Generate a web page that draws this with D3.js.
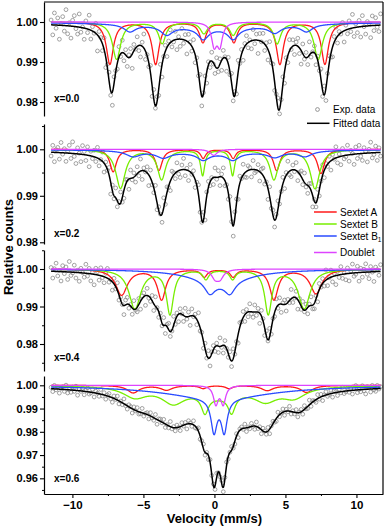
<!DOCTYPE html>
<html><head><meta charset="utf-8">
<script src="https://cdn.jsdelivr.net/npm/d3@7"></script>
<style>body{margin:0;background:#fff}svg{display:block}</style>
</head><body>
<script>
// ---------------- DATA ----------------
const velocityDomain = [-12, 11.87];
const velocitySpan = [-11.5, 11.7];
const xTicks = [-10, -5, 0, 5, 10];
const panelLabels = ["x=0.0", "x=0.2", "x=0.4", "x=0.6"];
const yDomains = [[0.9765, 1.005], [0.97963, 1.00544], [0.9728, 1.00507], [0.95325, 1.004]];
const yTicks = [[0.98, 0.99, 1.00], [0.98, 0.99, 1.00], [0.98, 0.99, 1.00], [0.96, 0.97, 0.98, 0.99, 1.00]];
const legendTop = ["Exp. data", "Fitted data"];
const legendComponents = ["Sextet A", "Sextet B", "Sextet B1", "Doublet"];

// Lorentzian lines: [velocity (mm/s), depth, half width]
const fit_x00 = [[-7.24,.0157,.38],[-6.0,.0055,.5],[-4.14,.0185,.40],[-0.86,.0145,.33],[0.2,.006,.4],[1.40,.0145,.33],[4.54,.0195,.40],[6.45,.0055,.5],[7.73,.0162,.38],[0.3,.0028,5]];
const sextetA_x00 = [[-7.36,.0105,.3],[-4.14,.0105,.3],[-0.81,.005,.28],[1.37,.005,.28],[4.61,.0105,.3],[7.78,.0105,.3]];
const sextetB_x00 = [[-6.89,.0093,.35],[-3.68,.0053,.3],[-0.74,.0028,.3],[1.32,.0032,.3],[4.42,.0053,.3],[7.31,.0093,.35]];
const sextetB1_x00 = [[-5.95,.0018,.5],[-3.36,.0022,.5],[-0.79,.0028,.45],[1.32,.0028,.45],[4.26,.0018,.5],[6.49,.0018,.5],[0.2,.0015,5]];
const doublet_x00 = [[-0.02,.0055,.22],[0.38,.0055,.22]];

const fit_x02 = [[-7.13,.0045,.3],[-6.65,.0085,.4],[-5.72,.0025,.5],[-3.77,.0118,.5],[-0.83,.012,.3],[0.2,.0008,.3],[1.32,.0128,.3],[4.26,.0128,.45],[6.4,.0035,.5],[7.15,.009,.4],[0.3,.003,5]];
const sextetA_x02 = [[-7.13,.0048,.28],[-3.91,.0045,.28],[-0.79,.0019,.22],[1.32,.0019,.22],[4.38,.0045,.28],[7.5,.0052,.3]];
const sextetB_x02 = [[-6.61,.0083,.4],[-3.72,.0064,.35],[-0.83,.0055,.18],[1.28,.0055,.18],[4.19,.0064,.35],[7.08,.0084,.4]];
const sextetB1_x02 = [[-5.72,.0012,.6],[-3.6,.0013,.6],[-0.79,.0015,.5],[1.3,.0015,.5],[4.26,.0012,.6],[6.37,.0012,.6],[0.3,.0008,5]];
const doublet_x02 = [[-0.05,.0013,.3]];

const fit_x04 = [[-6.45,.0055,.4],[-5.6,.0075,.6],[-4.2,.003,.4],[-3.65,.0058,.3],[-3.08,.0099,.45],[-2.0,.0045,.6],[-0.44,.0133,.55],[0.4,.004,.4],[1.25,.014,.5],[2.8,.003,.6],[3.79,.0131,.4],[5.0,.0045,.6],[6.32,.007,.5],[7.0,.005,.4],[0.4,.008,2.5]];
const sextetA_x04 = [[-6.54,.0069,.5],[-3.72,.0081,.35],[-0.72,.002,.25],[1.32,.002,.25],[4.19,.0081,.35],[7.15,.0065,.5]];
const sextetB_x04 = [[-5.6,.0105,.5],[-3.13,.0118,.3],[-0.6,.0025,.25],[1.28,.0025,.25],[3.79,.0118,.3],[6.32,.0105,.5]];
const sextetB1_x04 = [[-0.32,.0033,.45],[1.09,.0033,.45],[0.4,.0035,2.5]];
const doublet_x04 = [[0.05,.0022,.3],[0.4,.0022,.3]];

const fit_x06 = [[-0.03,.024,.3],[0.62,.024,.3],[-0.7,.010,.35],[1.25,.008,.35],[0.3,.010,3.5],[-5.5,.0055,1.5],[-2.8,.009,1.2],[-4.0,.003,1.0],[2.3,.0045,.8],[3.68,.0115,.8],[6.0,.007,1.0]];
const sextetA_x06 = [[-5.72,.0032,.5],[-3.37,.002,.5],[-0.79,.0013,.3],[1.04,.0013,.3],[3.72,.0022,.5],[6.49,.003,.5]];
const sextetB_x06 = [[-5.6,.0045,1.0],[-2.9,.0065,1.0],[-0.67,.0075,.3],[1.21,.0075,.3],[3.6,.0055,1.0],[5.6,.0045,1.0],[0.3,.004,2.0]];
const sextetB1_x06 = [[-0.03,.014,.25],[0.69,.014,.25],[0.3,.0058,4.5]];
const doublet_x06 = [[0.1,.0078,.2],[0.62,.0078,.2]];

// Experimental points: scatter about the fit, in units of 1e-4 relative counts
const expResidual_x00 = [12,-25,30,-8,18,-35,5,22,-14,40,-20,8,-30,15,27,-5,-18,33,-12,2,
-28,19,-9,36,-22,11,-3,25,-40,14,6,-17,29,-26,9,21,-11,-33,17,4,
-15,26,-7,31,-19,13,-24,7,20,-36,16,-2,24,-13,-29,10,35,-21,3,-10,
18,-27,23,-6,12,-16,28,-31,1,15,-23,9,32,-14,-4,21,-26,6,-18,27,
-9,14,-32,20,5,-12,25,-20,11,-7,30,-24,3,17,-28,8,-15,22,-3,-19,
26,-11,13,-25,19,2,-30,16,-8,24,-17,10,-22,29,-5,12,-27,7,21,-13,
4,-20,27,-9,15,-33,18,-1,23,-16,9,-26,31,-6,14,-21,6,25,-12,-2,
19,-29,11,-18,28,-4,16,-23,8,20,-14,-34,24,-7,13,-19,33,-10,1,17,
-24,10,-6,26,-15,22,-31,5,18,-9,-25,14,29,-17,7,-3,23,-28,12,-11,
20,-8,34,-22,9,-14,16,-26,27,-1,-20,11,6,-30,24,-13,19,-5,-16,28];
const expResidual_x02 = [-8,15,-20,6,11,-14,22,-3,9,-18,4,17,-11,25,-6,-21,13,2,-16,19,
7,-12,18,-24,10,-5,14,-9,23,-15,1,20,-19,8,-2,16,-25,12,-7,21,
-13,5,24,-10,-17,11,3,-22,18,-4,9,-14,15,-8,26,-19,6,-1,13,-23,
17,-6,-11,20,-15,8,2,-18,22,-9,12,-3,-20,14,5,-12,19,-7,-16,10,
24,-13,4,-21,16,-2,11,-17,7,21,-10,-5,18,-24,9,13,-8,3,-15,20,
-4,14,-19,6,22,-11,1,-14,17,-6,-22,12,8,-18,15,-1,23,-9,-13,10,
5,-16,19,-7,-3,13,-20,9,16,-12,2,-23,21,-5,11,-15,7,18,-10,-2,
14,-21,6,25,-8,-14,10,-4,17,-19,3,12,-11,20,-6,-17,8,15,-24,4,
-9,19,-13,1,22,-16,7,-5,13,-20,11,-1,24,-12,6,-18,16,-7,-3,21,
-14,9,2,-22,15,-10,18,-6,-15,12,4,-19,8,23,-11,-4,14,-17,10,-8];
const expResidual_x04 = [10,-18,7,22,-12,3,-25,16,-5,13,-20,28,-9,-2,19,-15,6,-23,12,1,
-11,24,-7,14,-19,5,-28,17,9,-13,21,-4,-16,11,26,-8,2,-22,15,-6,
20,-14,8,-1,-24,13,18,-10,4,-17,23,-3,-12,16,-21,7,10,-26,19,-5,
-9,14,-18,25,2,-15,11,-7,21,-22,6,17,-13,-3,24,-11,9,-20,13,1,
-16,22,-6,12,-25,18,-2,8,-14,27,-9,4,-19,15,-8,20,-23,5,11,-12,
7,-17,23,-4,-21,14,1,-10,18,-15,26,-7,3,-24,12,-1,16,-18,9,-13,
21,-5,-14,19,-9,10,-27,15,6,-20,13,-3,22,-16,2,-11,24,-8,17,-22,
4,12,-19,8,-6,25,-13,-2,18,-25,11,-9,20,-4,14,-17,5,23,-10,-15,
9,-21,16,-3,13,-12,27,-18,1,19,-14,7,-24,10,-7,21,-11,3,-16,15,
-20,6,24,-9,-4,17,-23,11,-13,8,22,-6,-18,14,-1,-26,12,5,-10,18];
const expResidual_x06 = [6,-12,15,-4,9,-17,3,11,-8,19,-14,2,-10,13,-5,18,-20,7,-2,12,
-15,5,16,-9,-3,14,-18,8,1,-11,20,-6,10,-16,4,13,-7,-19,11,-1,
17,-13,3,-8,21,-4,-14,9,6,-18,12,-2,15,-10,-6,19,-12,2,8,-16,
14,-5,-11,18,-20,7,10,-3,16,-15,1,-9,22,-7,5,-13,11,-1,-17,14,
-4,9,-21,13,3,-10,17,-8,-2,15,-14,6,20,-12,4,-18,11,-6,8,-15,
18,-3,-9,12,-19,5,14,-11,1,16,-7,-13,10,-22,6,9,-4,17,-16,2,
-8,13,-1,-14,19,-6,7,-17,12,4,-10,15,-20,3,11,-5,-12,18,-9,1,
14,-16,8,-3,21,-11,5,-7,13,-18,2,10,-15,16,-4,-9,20,-13,6,-1,
-12,17,-6,11,-19,3,14,-8,-2,15,-17,9,4,-14,12,-5,18,-10,-3,13,
-7,10,-16,5,19,-12,1,-9,16,-6,-20,11,7,-13,15,-4,-11,14,-2,8];

// ---------------- DRAWING ----------------
const W = 387, H = 528;
const FONT = '"Liberation Sans", Arial, Helvetica, sans-serif';
const colors = {A: "#ff1a1a", B: "#77ee00", B1: "#2a4bff", D: "#dd44ff", fit: "#000", pts: "#8a8a8a"};
const compColors = [colors.A, colors.B, colors.B1, colors.D];

const panels = [
  {fit: fit_x00, comps: [sextetA_x00, sextetB_x00, sextetB1_x00, doublet_x00], resid: expResidual_x00},
  {fit: fit_x02, comps: [sextetA_x02, sextetB_x02, sextetB1_x02, doublet_x02], resid: expResidual_x02},
  {fit: fit_x04, comps: [sextetA_x04, sextetB_x04, sextetB1_x04, doublet_x04], resid: expResidual_x04},
  {fit: fit_x06, comps: [sextetA_x06, sextetB_x06, sextetB1_x06, doublet_x06], resid: expResidual_x06}
];
const panelBox = [[2, 116], [124, 244], [250, 371], [376, 494]];
const labelBaseline = [101.5, 237, 361, 482];
const left = 44, right = 383;

const svg = d3.select("body").append("svg").attr("width", W).attr("height", H)
  .style("font-family", FONT);

const x = d3.scaleLinear().domain(velocityDomain).range([left, right]);
const spectrum = lines => v => 1 - d3.sum(lines, ([p, d, w]) => d / (1 + ((v - p) / w) ** 2));
const vGrid = d3.range(velocitySpan[0], velocitySpan[1] + 1e-9, 0.02);

panels.forEach((P, i) => {
  const [top, bottom] = panelBox[i];
  const y = d3.scaleLinear().domain(yDomains[i]).range([bottom, top]);
  const g = svg.append("g");
  const line = d3.line().x(d => x(d[0])).y(d => y(d[1]));
  const fitF = spectrum(P.fit);

  // experimental points
  const n = P.resid.length;
  const pts = P.resid.map((r, k) => {
    const v = velocitySpan[0] + k * (velocitySpan[1] - velocitySpan[0]) / (n - 1);
    return [v, fitF(v) + r * 1e-4];
  });
  g.append("g").selectAll("circle").data(pts).join("circle")
    .attr("cx", d => x(d[0])).attr("cy", d => y(d[1])).attr("r", 1.9)
    .attr("fill", "none").attr("stroke", colors.pts).attr("stroke-width", 0.8);

  // components
  P.comps.forEach((c, j) => {
    const f = spectrum(c);
    g.append("path").datum(vGrid.map(v => [v, f(v)])).attr("d", line)
      .attr("fill", "none").attr("stroke", compColors[j]).attr("stroke-width", 1.3);
  });
  // fit
  g.append("path").datum(vGrid.map(v => [v, fitF(v)])).attr("d", line)
    .attr("fill", "none").attr("stroke", colors.fit).attr("stroke-width", 1.5);

  // left axis
  const majors = yTicks[i];
  const lo = yDomains[i][0], hi = yDomains[i][1];
  const minors = d3.range(Math.ceil(lo * 200), Math.floor(hi * 200) + 1).map(k => k / 200)
    .filter(t => !majors.some(m => Math.abs(m - t) < 1e-6));
  const ax = g.append("g").attr("transform", `translate(${left},0)`)
    .call(d3.axisLeft(y).tickValues(majors).tickSize(4).tickSizeOuter(0).tickPadding(2).tickFormat(d3.format(".2f")));
  ax.selectAll("text").attr("font-size", 11).attr("font-weight", "bold").attr("fill", "#000").attr("font-family", FONT);
  ax.selectAll("line").attr("stroke-width", 1.1);
  ax.select(".domain").attr("stroke-width", 1.2);
  const axm = g.append("g").attr("transform", `translate(${left},0)`)
    .call(d3.axisLeft(y).tickValues(minors).tickSize(2).tickSizeOuter(0).tickFormat(""));
  axm.select(".domain").remove();
  axm.selectAll("line").attr("stroke-width", 1);

  g.append("text").attr("x", 54).attr("y", labelBaseline[i]).text(panelLabels[i])
    .attr("font-size", 10).attr("font-weight", "bold");
});

// frame
svg.append("line").attr("x1", left).attr("x2", right).attr("y1", 2).attr("y2", 2).attr("stroke", "#000").attr("stroke-width", 1.2);
svg.append("line").attr("x1", right).attr("x2", right).attr("y1", 2).attr("y2", 494).attr("stroke", "#000").attr("stroke-width", 1.2);

// bottom axis
const bx = svg.append("g").attr("transform", "translate(0,494)")
  .call(d3.axisBottom(x).tickValues(xTicks).tickSize(4).tickSizeOuter(0).tickPadding(3));
bx.selectAll("text").attr("font-size", 11.5).attr("font-weight", "bold").attr("font-family", FONT);
bx.select(".domain").attr("stroke-width", 1.2);
bx.selectAll("line").attr("stroke-width", 1.1);
const minorX = [-12.5, -7.5, -2.5, 2.5, 7.5].filter(t => t >= velocityDomain[0] && t <= velocityDomain[1]);
svg.append("g").attr("transform", "translate(0,494)")
  .call(d3.axisBottom(x).tickValues(minorX).tickSize(2).tickFormat(""))
  .call(a => a.select(".domain").remove());

// axis titles
svg.append("text").attr("x", 214.5).attr("y", 523).attr("text-anchor", "middle")
  .attr("font-size", 13).attr("font-weight", "bold").text("Velocity (mm/s)");
svg.append("text").attr("transform", "translate(13,247) rotate(-90)").attr("text-anchor", "middle")
  .attr("font-size", 13).attr("font-weight", "bold").text("Relative counts");

// legend 1
const lg = svg.append("g").attr("font-size", 10);
lg.append("circle").attr("cx", 317.5).attr("cy", 109.5).attr("r", 1.9).attr("fill", "none").attr("stroke", colors.pts).attr("stroke-width", 0.9);
lg.append("text").attr("x", 333).attr("y", 113).text(legendTop[0]);
lg.append("line").attr("x1", 307).attr("x2", 329.5).attr("y1", 123.3).attr("y2", 123.3).attr("stroke", "#000").attr("stroke-width", 1.5);
lg.append("text").attr("x", 333).attr("y", 127).text(legendTop[1]);

// legend 2
const legY = [212, 224, 236, 252.5];
legendComponents.forEach((name, j) => {
  lg.append("line").attr("x1", 314).attr("x2", 336.7).attr("y1", legY[j]).attr("y2", legY[j])
    .attr("stroke", compColors[j]).attr("stroke-width", 1.5);
  const t = lg.append("text").attr("x", 340).attr("y", legY[j] + 3.6);
  if (name.endsWith("1") && name.startsWith("Sextet B")) {
    t.append("tspan").text(name.slice(0, -1));
    t.append("tspan").attr("font-size", 6.5).attr("dy", 2.5).text("1");
  } else t.text(name);
});
</script>
</body></html>
